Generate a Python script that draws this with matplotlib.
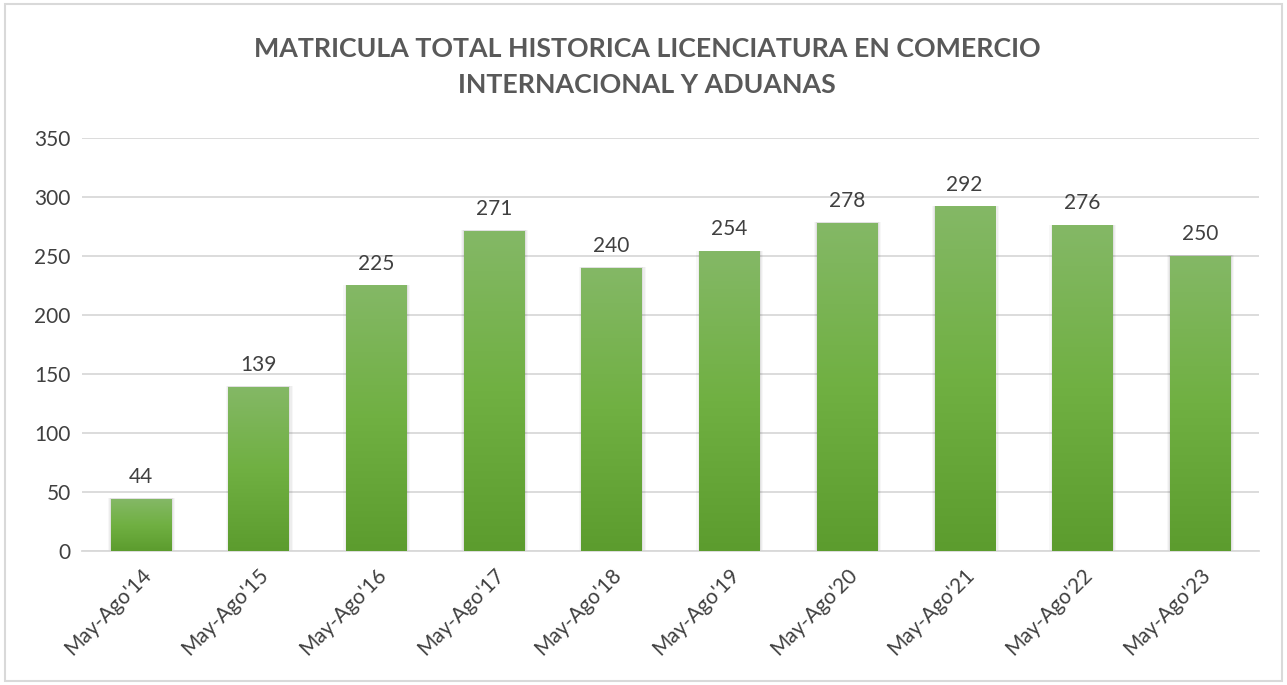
import numpy as np
import matplotlib.pyplot as plt
from matplotlib.colors import LinearSegmentedColormap
from matplotlib.patches import Rectangle

periodos = ["May-Ago'14", "May-Ago'15", "May-Ago'16", "May-Ago'17", "May-Ago'18",
            "May-Ago'19", "May-Ago'20", "May-Ago'21", "May-Ago'22", "May-Ago'23"]
matricula = [44, 139, 225, 271, 240, 254, 278, 292, 276, 250]
yticks = [0, 50, 100, 150, 200, 250, 300, 350]

plt.rcParams['font.family'] = ['Lato', 'DejaVu Sans']
texto = '#404040'

fig = plt.figure(figsize=(12.87, 6.85), dpi=100)
fig.patches.append(Rectangle((0.004, 0.006), 0.992, 0.988, transform=fig.transFigure,
                             fill=False, edgecolor='#d9d9d9', linewidth=1.5))
ax = fig.add_axes([0.0637, 0.1956, 0.9143, 0.603])

x = np.arange(len(periodos))
ancho = 0.51
verde = LinearSegmentedColormap.from_list('verde', ['#5c9c2e', '#70b042', '#84b866'])
grad = np.linspace(0, 1, 256).reshape(-1, 1)

# sombra suave alrededor de cada barra
for extra, a in [(0.06, 0.03), (0.04, 0.04), (0.02, 0.05)]:
    ax.bar(x + 0.006, np.array(matricula) + 0.6, width=ancho + extra, color='#000000',
           alpha=a, zorder=2, linewidth=0)

barras = ax.bar(x, matricula, width=ancho, color='none', zorder=3, linewidth=0)
for b, v in zip(barras, matricula):
    im = ax.imshow(grad, cmap=verde, origin='lower', aspect='auto', zorder=3,
                   extent=[b.get_x(), b.get_x() + b.get_width(), 0, v])
    im.set_clip_path(b)
    ax.text(b.get_x() + b.get_width() / 2, v + 10, str(v), ha='center', va='bottom',
            fontsize=15, color=texto)

ax.set_xlim(-0.5, len(periodos) - 0.5)
ax.set_ylim(0, 350)
ax.set_yticks(yticks)
ax.set_yticklabels([str(t) for t in yticks], fontsize=15, color=texto)
ax.set_xticks(x)
ax.set_xticklabels(periodos, rotation=45, ha='right', rotation_mode='anchor',
                   fontsize=15, color=texto)
ax.tick_params(length=0, pad=8)
ax.tick_params(axis='x', pad=10)
ax.grid(axis='y', color='#d9d9d9', linewidth=1.3, zorder=0)
ax.set_axisbelow(True)
for s in ['top', 'right', 'left']:
    ax.spines[s].set_visible(False)
ax.spines['bottom'].set_color('#d9d9d9')
ax.spines['bottom'].set_linewidth(1.3)

fig.text(0.503, 0.9025, 'MATRICULA TOTAL HISTORICA LICENCIATURA EN COMERCIO\nINTERNACIONAL Y ADUANAS',
         ha='center', va='center', fontsize=19.3, fontweight='bold', color='#595959',
         linespacing=1.6)

fig.savefig('out.png', dpi=100)
